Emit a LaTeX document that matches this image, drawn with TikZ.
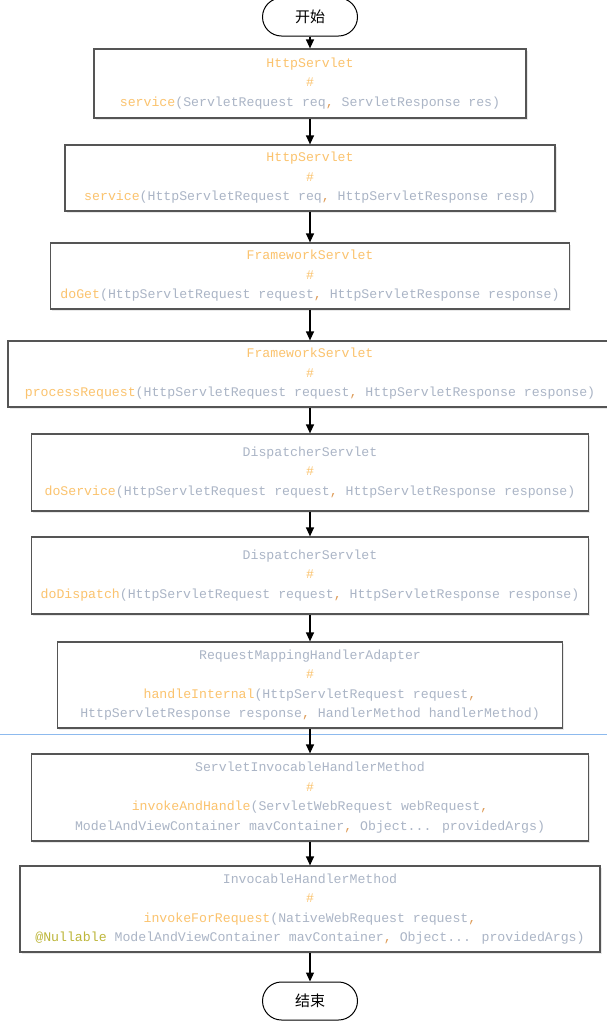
\documentclass[tikz,border=0pt]{standalone}
\usepackage{fontspec}
\newfontfamily\codefont{Liberation Mono}
\newfontfamily\cjkfont{Noto Sans CJK SC}
\usetikzlibrary{arrows.meta,shadows}
\definecolor{mthc}{HTML}{FBC36E}
\definecolor{txtc}{HTML}{ABB5C6}
\definecolor{cmac}{HTML}{DE9C58}
\definecolor{annc}{HTML}{BDB63A}
\definecolor{edgec}{HTML}{555555}
\definecolor{bluel}{HTML}{8DBAEE}
\newcommand{\km}[1]{\textcolor{mthc}{#1}}
\newcommand{\kt}[1]{\textcolor{txtc}{#1}}
\newcommand{\kc}{\textcolor{cmac}{,}}
\newcommand{\ka}[1]{\textcolor{annc}{#1}}
\begin{document}
\begin{tikzpicture}[x=1pt,y=-1pt,
  stepbox/.style={draw=edgec, line width=1.2pt, fill=white, rectangle, inner sep=0pt,
    align=center, font=\codefont\fontsize{13.2}{19.5}\selectfont,
    drop shadow={shadow xshift=1.5pt, shadow yshift=-1.5pt, opacity=0.18, fill=black!50}},
  term/.style={draw=black, line width=1pt, fill=white, rectangle, rounded corners=19pt,
    minimum width=95pt, minimum height=38pt, inner sep=0pt, font=\cjkfont\fontsize{15}{18}\selectfont},
  arr/.style={draw=black, line width=1.2pt, -{Triangle[length=9pt,width=8pt]}}]
\useasboundingbox (0,0) rectangle (607,1029);
\fill[white] (0,0) rectangle (607,1029);
\draw[bluel, line width=1.3pt] (0,734.5) -- (607,734.5);

\node[term] (start) at (310,17) {开始};
\node[stepbox, minimum width=432pt, minimum height=69pt] (b1) at (310,83.5)
  {\km{HttpServlet}\\ \km{\#}\\ \km{service}\kt{(ServletRequest req}\kc\ \kt{ServletResponse res)}};
\node[stepbox, minimum width=490pt, minimum height=66pt] (b2) at (310,178)
  {\km{HttpServlet}\\ \km{\#}\\ \km{service}\kt{(HttpServletRequest req}\kc\ \kt{HttpServletResponse resp)}};
\node[stepbox, minimum width=519pt, minimum height=66pt] (b3) at (310,276)
  {\km{FrameworkServlet}\\ \km{\#}\\ \km{doGet}\kt{(HttpServletRequest request}\kc\ \kt{HttpServletResponse response)}};
\node[stepbox, minimum width=604pt, minimum height=66pt] (b4) at (310,374)
  {\km{FrameworkServlet}\\ \km{\#}\\ \km{processRequest}\kt{(HttpServletRequest request}\kc\ \kt{HttpServletResponse response)}};
\node[stepbox, minimum width=557pt, minimum height=77pt] (b5) at (310,472.5)
  {\kt{DispatcherServlet}\\ \km{\#}\\ \km{doService}\kt{(HttpServletRequest request}\kc\ \kt{HttpServletResponse response)}};
\node[stepbox, minimum width=557pt, minimum height=77pt] (b6) at (310,575.5)
  {\kt{DispatcherServlet}\\ \km{\#}\\ \km{doDispatch}\kt{(HttpServletRequest request}\kc\ \kt{HttpServletResponse response)}};
\node[stepbox, minimum width=505pt, minimum height=86pt] (b7) at (310,685)
  {\kt{RequestMappingHandlerAdapter}\\ \km{\#}\\ \km{handleInternal}\kt{(HttpServletRequest request}\kc\\
   \kt{HttpServletResponse response}\kc\ \kt{HandlerMethod handlerMethod)}};
\node[stepbox, minimum width=557pt, minimum height=87pt] (b8) at (310,797.5)
  {\kt{ServletInvocableHandlerMethod}\\ \km{\#}\\ \km{invokeAndHandle}\kt{(ServletWebRequest webRequest}\kc\\
   \kt{ModelAndViewContainer mavContainer}\kc\ \kt{Object... providedArgs)}};
\node[stepbox, minimum width=580pt, minimum height=86pt] (b9) at (310,909)
  {\kt{InvocableHandlerMethod}\\ \km{\#}\\ \km{invokeForRequest}\kt{(NativeWebRequest request}\kc\\
   \ka{@Nullable}\ \kt{ModelAndViewContainer mavContainer}\kc\ \kt{Object... providedArgs)}};
\node[term] (end) at (310,1001) {结束};

\draw[arr] (start) -- (b1);
\draw[arr] (b1) -- (b2);
\draw[arr] (b2) -- (b3);
\draw[arr] (b3) -- (b4);
\draw[arr] (b4) -- (b5);
\draw[arr] (b5) -- (b6);
\draw[arr] (b6) -- (b7);
\draw[arr] (b7) -- (b8);
\draw[arr] (b8) -- (b9);
\draw[arr] (b9) -- (end);
\end{tikzpicture}
\end{document}
